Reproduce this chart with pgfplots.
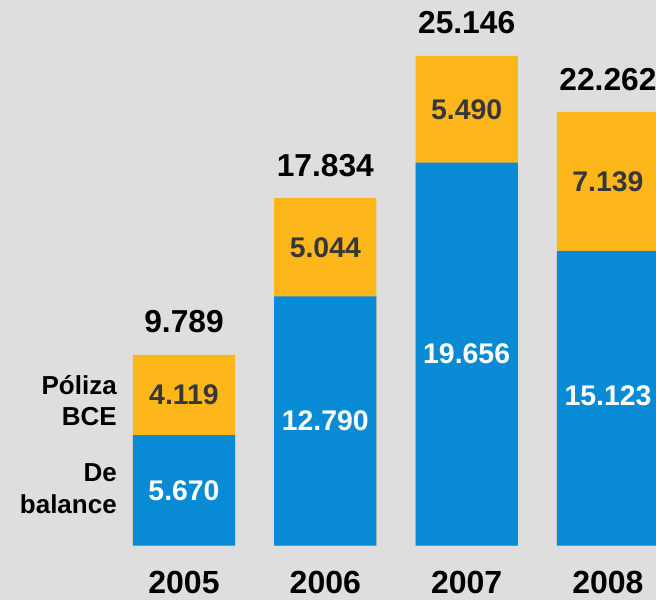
\documentclass[border=0pt]{standalone}
\usepackage{pgfplots}
\pgfplotsset{compat=1.18}
\usepackage{fontspec}
\setmainfont{Liberation Sans}
\definecolor{bgc}{RGB}{222,222,222}
\definecolor{cblue}{RGB}{8,139,212}
\definecolor{cyel}{RGB}{253,183,26}
\definecolor{cdark}{RGB}{55,55,55}
\begin{document}
\begin{tikzpicture}
\path[use as bounding box] (0,0) rectangle (492pt,450pt);
\fill[bgc] (0,0) rectangle (492pt,450pt);
\begin{axis}[
  at={(0pt,40.875pt)}, anchor=south west,
  scale only axis, width=492pt, height=409.125pt,
  xmin=-1.302, xmax=3.340, ymin=0, ymax=28.01,
  axis line style={draw=none}, major tick length=0pt,
  ytick=\empty, xtick={0,1,2,3},
  xticklabels={2005,2006,2007,2008},
  xticklabel style={font=\bfseries\fontsize{24}{28}\selectfont, text=black, anchor=north, yshift=-19pt, inner sep=0pt},
  /pgf/number format/assume math mode=true,
]
\addplot[ybar, bar width=76.7pt, bar shift=0pt, fill=cyel, draw=none] coordinates {(0,9.789) (1,17.834) (2,25.146) (3,22.262)};
\addplot[ybar, bar width=76.7pt, bar shift=0pt, fill=cblue, draw=none] coordinates {(0,5.670) (1,12.790) (2,19.656) (3,15.123)};
% totals
\addplot[draw=none, mark=none, nodes near coords, point meta=explicit symbolic,
  every node near coord/.style={anchor=south, inner sep=0pt, yshift=16pt, font=\bfseries\fontsize{23.8}{28}\selectfont, text=black}]
  coordinates {(0,9.789)[9.789] (1,17.834)[17.834] (2,25.146)[25.146] (3,22.262)[22.262]};
% yellow segment labels
\addplot[draw=none, mark=none, nodes near coords, point meta=explicit symbolic,
  every node near coord/.style={anchor=center, inner sep=0pt, font=\bfseries\fontsize{21.3}{25}\selectfont, text=cdark}]
  coordinates {(0,7.7295)[4.119] (1,15.312)[5.044] (2,22.401)[5.490] (3,18.6925)[7.139]};
% blue segment labels
\addplot[draw=none, mark=none, nodes near coords, point meta=explicit symbolic,
  every node near coord/.style={anchor=center, inner sep=0pt, font=\bfseries\fontsize{21.3}{25}\selectfont, text=white}]
  coordinates {(0,2.835)[5.670] (1,6.395)[12.790] (2,9.828)[19.656] (3,7.7)[15.123]};
\node[anchor=east, align=right, inner sep=0pt, font=\bfseries\fontsize{19.5}{23}\selectfont] at (axis cs:-0.474,7.45) {Póliza\\BCE};
\node[anchor=east, align=right, inner sep=0pt, font=\bfseries\fontsize{19.5}{24}\selectfont] at (axis cs:-0.474,2.93) {De\\balance};
\end{axis}
\end{tikzpicture}
\end{document}
